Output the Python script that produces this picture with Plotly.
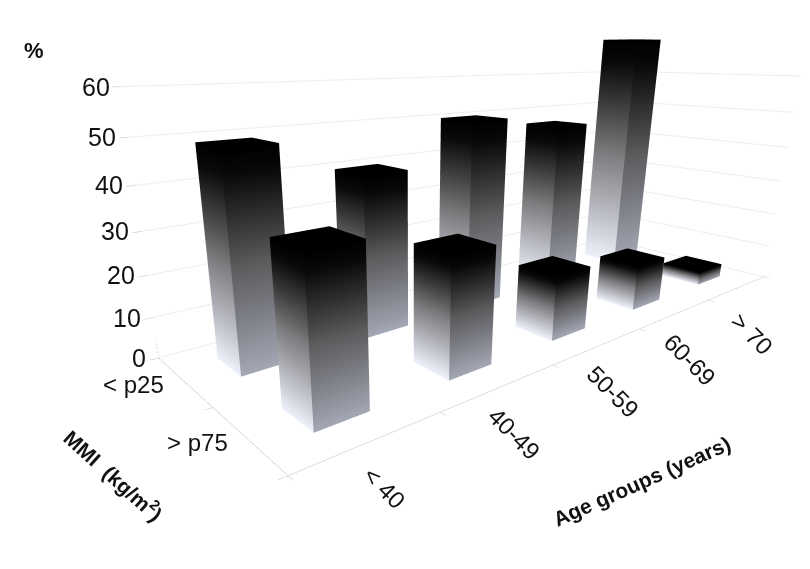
import plotly.graph_objects as go

ages = ["< 40", "40-49", "50-59", "60-69", "> 70"]
mmi = ["> p75", "< p25"]
# % per age group, one list for each MMI class
# the > 70 value is set so the bar top lands where the reference draws it,
# against the reference's own gridlines it reads closer to 60
low_mmi = [49, 40, 50, 46.5, 70]
high_mmi = [35, 28, 16.5, 12.5, 4]
z_ticks = [0, 10, 20, 30, 40, 50, 60]
z_top = 72

half_x = 0.19
half_y = 0.2
left_scale = [[0, "#eef1fb"], [0.5, "#7d7d80"], [0.9, "#0a0a0a"], [1, "#000000"]]
front_scale = [[0, "#a4a7b5"], [0.5, "#5c5c5e"], [0.9, "#080808"], [1, "#000000"]]
text_font = dict(size=24, color="#111", family="Liberation Sans")

fig = go.Figure()


def add_face(xs, ys, zs, shade, scale):
    fig.add_trace(go.Mesh3d(x=xs, y=ys, z=zs, i=[0, 0], j=[1, 2], k=[2, 3],
                            intensity=shade, cmin=0, cmax=1, colorscale=scale,
                            showscale=False, flatshading=True, hoverinfo="skip",
                            lighting=dict(ambient=1, diffuse=0, specular=0, fresnel=0)))


def add_bar(xc, yc, h):
    x0, x1 = xc - half_x, xc + half_x
    y0, y1 = yc - half_y, yc + half_y
    # left face, front face, black top
    add_face([x0, x0, x0, x0], [y0, y1, y1, y0], [0, 0, h, h], [0, 0, 1, 1], left_scale)
    add_face([x0, x1, x1, x0], [y0, y0, y0, y0], [0, 0, h, h], [0, 0, 1, 1], front_scale)
    add_face([x0, x1, x1, x0], [y0, y0, y1, y1], [h, h, h, h], [1, 1, 1, 1], front_scale)


for n in range(len(ages)):
    add_bar(n, 1, low_mmi[n])
for n in range(len(ages)):
    add_bar(n, 0, high_mmi[n])

# z axis line stops at the last tick, the range goes higher for the tall bar
fig.add_trace(go.Scatter3d(x=[-0.5, -0.5], y=[1.5, 1.5], z=[z_ticks[0], z_ticks[-1]],
                           mode="lines", line=dict(color="#aaaaaa", width=3),
                           hoverinfo="skip"))

labels = []
for n, a in enumerate(ages):
    labels.append(dict(x=n, y=-0.5, z=0, text=a, textangle=45, showarrow=False,
                       xshift=14, yshift=-46, font=text_font))
for n, m in enumerate(mmi):
    labels.append(dict(x=-0.5, y=n, z=0, text=m, showarrow=False,
                       xshift=-50, yshift=-4, font=text_font))
for t in z_ticks:
    labels.append(dict(x=-0.5, y=1.5, z=t, text=str(t), showarrow=False, xanchor="right",
                       xshift=-10, font=dict(size=25, color="#111", family="Liberation Sans")))

fig.update_layout(
    width=810, height=569, margin=dict(l=0, r=0, t=0, b=0),
    paper_bgcolor="white", showlegend=False,
    scene=dict(
        domain=dict(x=[0, 1], y=[0, 1]),
        aspectmode="manual", aspectratio=dict(x=2.25, y=0.8, z=0.96),
        camera=dict(eye=dict(x=-1.734, y=-1.587, z=0.413), center=dict(x=-0.231, y=0.257, z=-0.427),
                    up=dict(x=0, y=0, z=1), projection=dict(type="perspective")),
        xaxis=dict(range=[-0.5, 4.5], tickvals=[-0.5, 0.5, 1.5, 2.5, 3.5, 4.5],
                   showticklabels=False, title="", showgrid=False, zeroline=False,
                   showline=True, linecolor="#bbbbbb", ticks="outside", ticklen=6,
                   tickcolor="#bbbbbb", showbackground=False, showspikes=False),
        yaxis=dict(range=[-0.5, 1.5], tickvals=[-0.5, 0.5, 1.5],
                   showticklabels=False, title="", showgrid=False, zeroline=False,
                   showline=True, linecolor="#bbbbbb", ticks="outside", ticklen=6,
                   tickcolor="#bbbbbb", showbackground=False, showspikes=False),
        zaxis=dict(range=[0, z_top], tickvals=z_ticks, showticklabels=False, title="",
                   gridcolor="#eeeeee", showline=False, ticks="outside",
                   ticklen=6, tickcolor="#bbbbbb", zeroline=False, showbackground=False,
                   showspikes=False),
        annotations=labels,
    ),
    annotations=[
        dict(x=26 / 810, y=1 - 42 / 569, xref="paper", yref="paper", text="<b>%</b>",
             xanchor="center", yanchor="middle", showarrow=False,
             font=dict(size=22, color="#111", family="Liberation Sans")),
        dict(x=106 / 810, y=1 - 467 / 569, xref="paper", yref="paper",
             text="<b>MMI  (kg/m<sup>2</sup>)</b>", textangle=42, xanchor="center",
             yanchor="middle", showarrow=False,
             font=dict(size=21, color="#111", family="Liberation Sans")),
        dict(x=633 / 810, y=1 - 473 / 569, xref="paper", yref="paper",
             text="<b>Age groups (years)</b>", textangle=-24, xanchor="center",
             yanchor="middle", showarrow=False,
             font=dict(size=21, color="#111", family="Liberation Sans")),
    ],
)

fig.write_html("out.html")
